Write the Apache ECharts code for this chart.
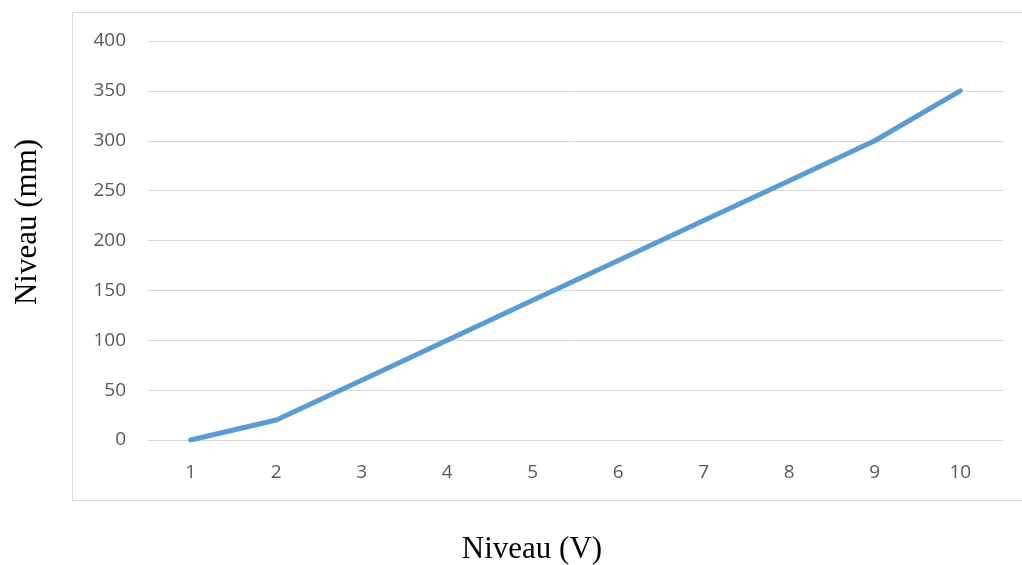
<!DOCTYPE html>
<html>
<head>
<meta charset="utf-8">
<script src="https://cdn.jsdelivr.net/npm/echarts@6/dist/echarts.min.js"></script>
<style>
  html, body { margin: 0; padding: 0; background: #fff; }
  #chart { width: 1022px; height: 565px; }
</style>
</head>
<body>
<div id="chart"></div>
<script>
// categories (x) and level values (mm)
const categories = ["1", "2", "3", "4", "5", "6", "7", "8", "9", "10"];
const levels = [0, 20, 60, 100, 140, 180, 220, 260, 300, 350];
const xTitle = "Niveau (V)";
const yTitle = "Niveau (mm)";

const chart = echarts.init(document.getElementById("chart"));

const titleStyle = { fontFamily: "Liberation Serif", fontSize: 31, fill: "#000" };

const option = {
  animation: false,
  graphic: [
    {
      type: "rect",
      shape: { x: 72.5, y: 12.5, width: 960, height: 488 },
      style: { fill: "none", stroke: "#d9d9d9", lineWidth: 1 }
    },
    {
      type: "text",
      x: 532,
      y: 550,
      style: Object.assign({ text: xTitle, align: "center", verticalAlign: "middle" }, titleStyle)
    },
    {
      type: "text",
      x: 28,
      y: 222,
      rotation: Math.PI / 2,
      style: Object.assign({ text: yTitle, align: "center", verticalAlign: "middle" }, titleStyle)
    }
  ],
  grid: { left: 148, right: 19, top: 41, bottom: 125, containLabel: false, outerBoundsMode: "none" },
  xAxis: {
    type: "category",
    data: categories,
    boundaryGap: true,
    axisLine: { show: true, lineStyle: { color: "#d9d9d9", width: 1 } },
    axisTick: { show: false },
    axisLabel: { color: "#595959", fontSize: 19, fontFamily: "Open Sans", margin: 23 }
  },
  yAxis: {
    type: "value",
    min: 0,
    max: 400,
    interval: 50,
    axisLine: { show: false },
    axisTick: { show: false },
    splitLine: { lineStyle: { color: "#d9d9d9", width: 1 } },
    axisLabel: { color: "#595959", fontSize: 19, fontFamily: "Open Sans", margin: 22 }
  },
  series: [
    {
      type: "line",
      data: levels,
      showSymbol: false,
      lineStyle: { color: "#5b9bd5", width: 5, cap: "round" }
    }
  ]
};

chart.setOption(option);
</script>
</body>
</html>
